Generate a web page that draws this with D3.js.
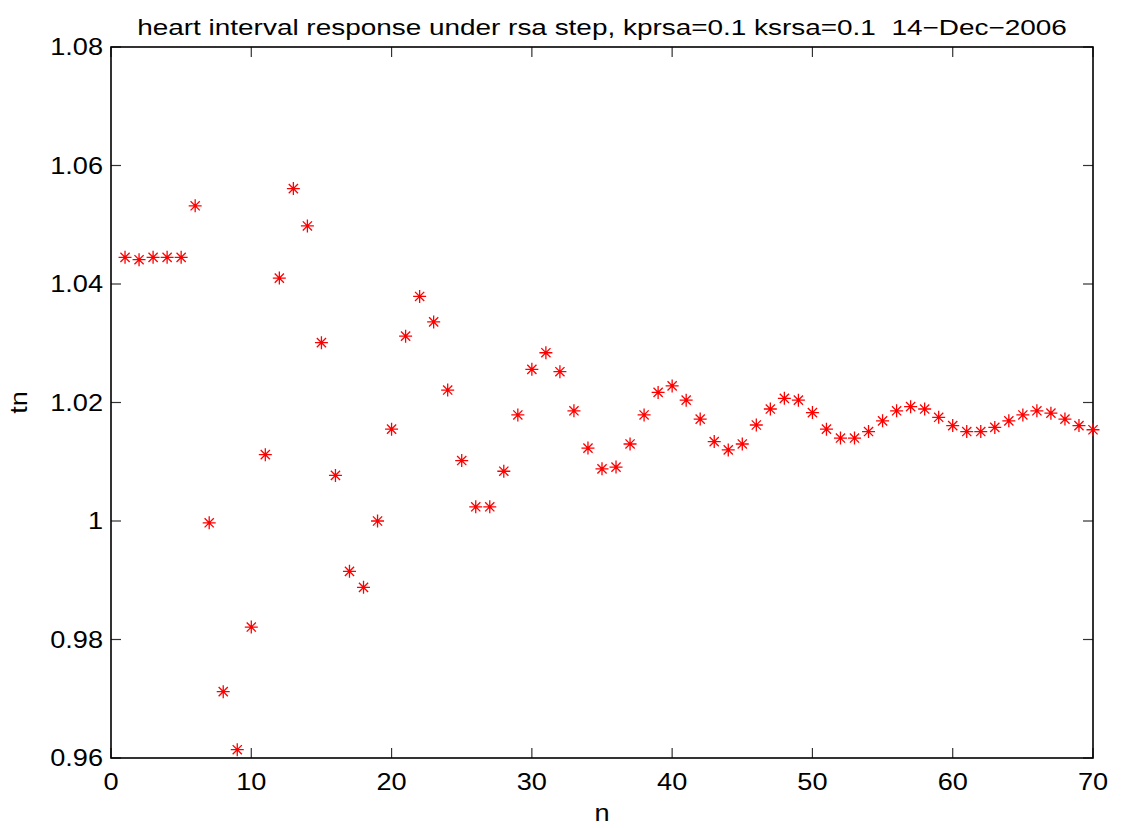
<!DOCTYPE html>
<html>
<head>
<meta charset="utf-8">
<script src="https://cdn.jsdelivr.net/npm/d3@7"></script>
<style>
  body { margin: 0; background: #fff; }
  text { font-family: "Liberation Sans", Arial, sans-serif; fill: #000; font-size: 23px; }
</style>
</head>
<body>
<div id="chart"></div>
<script>
// beat index and heart interval
const nValues = d3.range(1, 71);
const tnValues = [
  1.0445, 1.0441, 1.0445, 1.0445, 1.0445, 1.0532, 0.9997, 0.9712, 0.9614, 0.9821,
  1.0112, 1.0410, 1.0561, 1.0498, 1.0301, 1.0077, 0.9915, 0.9888, 1.0000, 1.0155,
  1.0312, 1.0379, 1.0336, 1.0221, 1.0102, 1.0024, 1.0024, 1.0084, 1.0179, 1.0256,
  1.0284, 1.0252, 1.0186, 1.0123, 1.0088, 1.0091, 1.0130, 1.0179, 1.0217, 1.0228,
  1.0204, 1.0172, 1.0134, 1.0120, 1.0130, 1.0162, 1.0189, 1.0207, 1.0204, 1.0183,
  1.0155, 1.0140, 1.0140, 1.0151, 1.0169, 1.0186, 1.0193, 1.0189, 1.0175, 1.0161,
  1.0151, 1.0151, 1.0158, 1.0169, 1.0179, 1.0186, 1.0182, 1.0172, 1.0161, 1.0154
];
const xTicks = [0, 10, 20, 30, 40, 50, 60, 70];
const yTicks = [0.96, 0.98, 1.00, 1.02, 1.04, 1.06, 1.08];
const yTickLabels = ['0.96', '0.98', '1', '1.02', '1.04', '1.06', '1.08'];

const titleText = 'heart interval response under rsa step, kprsa=0.1 ksrsa=0.1  14\u2212Dec\u22122006';

const W = 1128, H = 828;
const margin = { left: 111, top: 47, right: 35, bottom: 70 };
const width = W - margin.left - margin.right;
const height = H - margin.top - margin.bottom;

const svg = d3.select('#chart').append('svg')
  .attr('width', W)
  .attr('height', H);

const g = svg.append('g')
  .attr('transform', 'translate(' + margin.left + ',' + margin.top + ')');

const xScale = d3.scaleLinear().domain([0, 70]).range([0, width]);
const yScale = d3.scaleLinear().domain([0.96, 1.08]).range([height, 0]);

// the reference lettering is wider than Liberation Sans
function place(x, y, s) {
  return 'translate(' + x + ',' + y + ') scale(' + (s || 1.18) + ',1)';
}

// box ticks: inward on all four sides
const tickLen = 10;
const ticks = g.append('g').attr('stroke', '#333').attr('stroke-width', 1.2);
xTicks.forEach((t) => {
  const x = xScale(t);
  ticks.append('line').attr('x1', x).attr('x2', x).attr('y1', height).attr('y2', height - tickLen);
  ticks.append('line').attr('x1', x).attr('x2', x).attr('y1', 0).attr('y2', tickLen);
});
yTicks.forEach((t) => {
  const y = yScale(t);
  ticks.append('line').attr('x1', 0).attr('x2', tickLen).attr('y1', y).attr('y2', y);
  ticks.append('line').attr('x1', width).attr('x2', width - tickLen).attr('y1', y).attr('y2', y);
});

// tick labels
g.selectAll('.xlabel')
  .data(xTicks)
  .enter().append('text')
    .attr('class', 'xlabel')
    .attr('transform', (d) => place(xScale(d), height + 32))
    .attr('text-anchor', 'middle')
    .text((d) => d);

g.selectAll('.ylabel')
  .data(yTicks)
  .enter().append('text')
    .attr('class', 'ylabel')
    .attr('transform', (d) => place(-8, yScale(d) + 8))
    .attr('text-anchor', 'end')
    .text((d, i) => yTickLabels[i]);

// frame
g.append('rect')
  .attr('width', width)
  .attr('height', height)
  .style('fill', 'none')
  .style('stroke', '#000')
  .style('stroke-width', 1.6);

// asterisk markers
const a = 6.5, b = 4.6;
const star = 'M' + (-a) + ',0H' + a + 'M0,' + (-a) + 'V' + a +
  'M' + (-b) + ',' + (-b) + 'L' + b + ',' + b + 'M' + (-b) + ',' + b + 'L' + b + ',' + (-b);

g.selectAll('.pt')
  .data(nValues)
  .enter().append('path')
    .attr('class', 'pt')
    .attr('d', star)
    .attr('transform', (d, i) => 'translate(' + xScale(d) + ',' + yScale(tnValues[i]) + ')')
    .style('fill', 'none')
    .style('stroke', '#ff0000')
    .style('stroke-width', 1.3);

// title and axis names
svg.append('text')
  .attr('transform', place(margin.left + width / 2, 35, 1.27))
  .attr('text-anchor', 'middle')
  .style('font-size', '22px')
  .style('white-space', 'pre')
  .text(titleText);

svg.append('text')
  .attr('transform', place(margin.left + width / 2, H - 7))
  .attr('text-anchor', 'middle')
  .text('n');

svg.append('text')
  .attr('transform', 'translate(27,' + (margin.top + height / 2) + ') rotate(-90) scale(1.18,1)')
  .attr('text-anchor', 'middle')
  .text('tn');
</script>
</body>
</html>
